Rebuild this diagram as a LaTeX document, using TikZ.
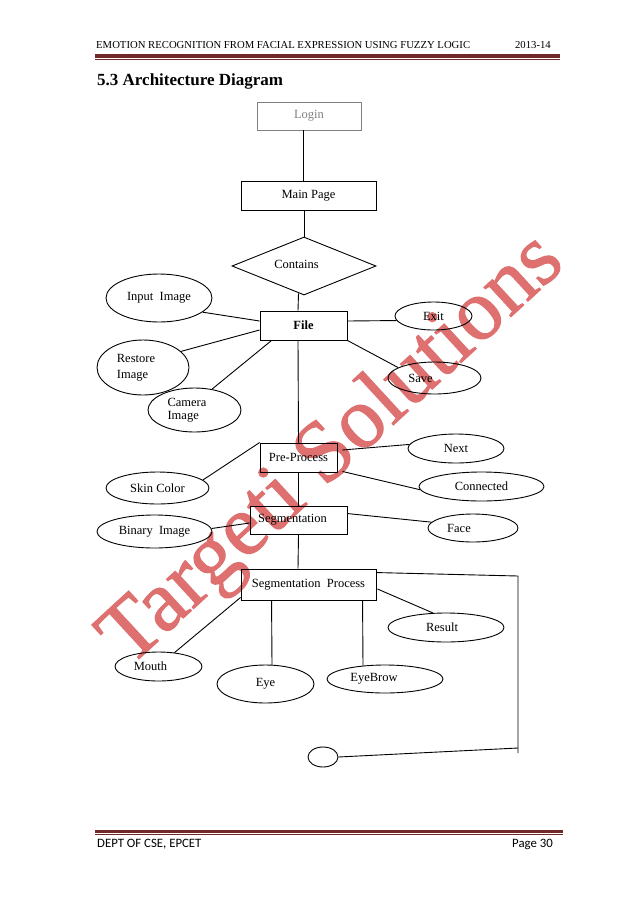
\documentclass[tikz,border=0pt]{standalone}
\usepackage{fontspec}
\setmainfont{Liberation Serif}
\newfontfamily\calfont{Carlito}
\newfontfamily\wmfont{Liberation Serif}[FakeBold=1.2]
\usetikzlibrary{shapes.geometric,calc}
\definecolor{wm}{RGB}{222,112,112}
\definecolor{rule}{RGB}{112,40,40}
\newcommand\diafont{\fontsize{12.5}{15}\selectfont}
\tikzset{
  box/.style={draw, rectangle, inner sep=0pt, line width=0.9pt, font=\diafont},
  ell/.style={draw, ellipse, inner sep=0pt, line width=0.9pt, font=\diafont},
  conn/.style={line width=0.9pt},
}
\begin{document}
\begin{tikzpicture}[x=1pt,y=-1pt]
\path[use as bounding box, fill=white] (0,0) rectangle (638,903);
% watermark
\node[rotate=42.6, anchor=base west, inner sep=0pt, text=wm,
      font=\wmfont\fontsize{87}{87}\selectfont] (wmark) at (129,668) {Targeti Solutions};
% header
\node[anchor=base west, inner sep=0pt, font=\fontsize{10.7}{12}\selectfont] (htitle) at (96,48) {EMOTION RECOGNITION FROM FACIAL EXPRESSION USING FUZZY LOGIC};
\node[anchor=base east, inner sep=0pt, font=\fontsize{10.7}{12}\selectfont] (hyear) at (551,48) {2013-14};
\fill[rule] (95,54) rectangle (560,57.5);
\draw[rule, line width=0.6pt] (95,59) -- (560,59);
\node[anchor=base west, inner sep=0pt, font=\fontsize{17}{19}\selectfont\bfseries] (title) at (97,85) {5.3 Architecture Diagram};
% footer
\fill[rule] (95,830) rectangle (563,833);
\draw[rule, line width=0.6pt] (95,834.5) -- (563,834.5);
\node[anchor=base west, inner sep=0pt, font=\calfont\fontsize{12.8}{14}\selectfont] (fleft) at (97,847) {DEPT OF CSE, EPCET};
\node[anchor=base east, inner sep=0pt, font=\calfont\fontsize{12.8}{14}\selectfont] (fright) at (553,847) {Page 30};
% boxes
\node[box, draw=gray, text=gray, minimum width=104pt, minimum height=28pt] (login) at (309,116) {Login};
\node[box, minimum width=135pt, minimum height=29pt] (main) at (308.5,195.5) {Main Page};
\node[draw, diamond, line width=0.9pt, inner sep=0pt, aspect=2.48, minimum width=144pt, minimum height=58pt, font=\diafont] (contains) at (304,266) {\raisebox{4pt}{Contains}\kern15pt};
\node[box, minimum width=87pt, minimum height=29pt, font=\diafont\bfseries] (file) at (303.5,325.5) {File};
\node[box, minimum width=77pt, minimum height=29pt] (pre) at (298.5,457.5) {Pre-Process};
\node[box, minimum width=97pt, minimum height=28pt] (seg) at (298.5,520) {Segmentation\kern12pt};
\node[box, minimum width=135pt, minimum height=31pt] (segp) at (308.5,584.5) {Segmentation\ \ Process};
% ellipses
\node[ell, minimum width=106pt, minimum height=48pt] (inp) at (159,298) {Input\ \ Image};
\node[ell, minimum width=92pt, minimum height=55pt] (rest) at (143,367.5) {\begin{tabular}{@{}l@{}}Restore\\[1pt]Image\end{tabular}\kern14pt};
\node[ell, minimum width=93pt, minimum height=44pt] (cam) at (194.5,410) {\begin{tabular}{@{}l@{}}Camera\\[-2pt]Image\end{tabular}\kern15pt};
\node[ell, minimum width=77pt, minimum height=28pt] (exit) at (433.5,316) {Exit};
\node[ell, minimum width=93pt, minimum height=32pt] (save) at (434.5,378) {Save\kern28pt};
\node[ell, minimum width=96pt, minimum height=29pt] (next) at (456,448.5) {Next};
\node[ell, minimum width=125pt, minimum height=29pt] (connd) at (481.5,486.5) {Connected};
\node[ell, minimum width=103pt, minimum height=32pt] (skin) at (157.5,488) {Skin Color};
\node[ell, minimum width=115pt, minimum height=33pt] (bin) at (154.5,531.5) {Binary\ \ Image};
\node[ell, minimum width=90pt, minimum height=28pt] (face) at (473,528) {Face\kern28pt};
\node[ell, minimum width=116pt, minimum height=29pt] (res) at (446,627.5) {Result\kern8pt};
\node[ell, minimum width=87pt, minimum height=29pt] (mouth) at (158.5,666.5) {Mouth\kern16pt};
\node[ell, minimum width=97pt, minimum height=38pt] (eye) at (265.5,684) {Eye};
\node[ell, minimum width=116pt, minimum height=28pt] (brow) at (385,679) {EyeBrow\kern22pt};
\node[ell, minimum width=30pt, minimum height=20pt] (circ) at (323,757) {};
\coordinate (c1) at (518,576);
\coordinate (c2) at (518,753);
\coordinate (c3) at (518,748);
% connectors
\draw[conn] ($(login.south)+(-6,0)$) -- ($(main.north)+(-5.5,0)$);
\draw[conn] ($(main.south)+(-4.5,0)$) -- (contains.north);
\draw[conn] ($(contains.south)+(-5.5,-2)$) -- ($(file.north)+(-5.5,0)$);
\draw[conn] (inp.-18) -- ($(file.west)+(0,-4.5)$);
\draw[conn] (rest.23) -- ($(file.west)+(0,4.5)$);
\draw[conn] (cam.50) -- ($(file.south west)+(12,0)$);
\draw[conn] ($(file.east)+(0,-4.5)$) -- (exit.-173);
\draw[conn] (file.south east) -- (save.164);
\draw[conn] ($(file.south)+(-5.5,0)$) -- (pre.north);
\draw[conn] ($(pre.east)+(5,-7.5)$) -- (next.175);
\draw[conn] ($(pre.south east)+(5,-1)$) -- (connd.183);
\draw[conn] (skin.10) -- (pre.north west);
\draw[conn] (pre.south) -- (seg.north);
\draw[conn] (bin.3.5) -- ($(seg.west)+(0,3)$);
\draw[conn] ($(seg.north east)+(0,8)$) -- (face.172);
\draw[conn] (seg.south) -- ($(segp.north)+(-10.5,0)$);
\draw[conn] ($(segp.east)+(1,4.5)$) -- (res.132);
\draw[conn] ($(segp.south west)+(0,-3)$) -- (mouth.41);
\draw[conn] ($(segp.south west)+(31,0)$) -- ($(eye.north)+(6.5,0.3)$);
\draw[conn] ($(segp.south west)+(122,0)$) -- ($(brow.north)+(-22,1)$);
\draw[conn] ($(segp.north east)+(0,4)$) -- (c1) -- (c2);
\draw[conn] (circ.east) -- (c3);
\end{tikzpicture}
\end{document}
